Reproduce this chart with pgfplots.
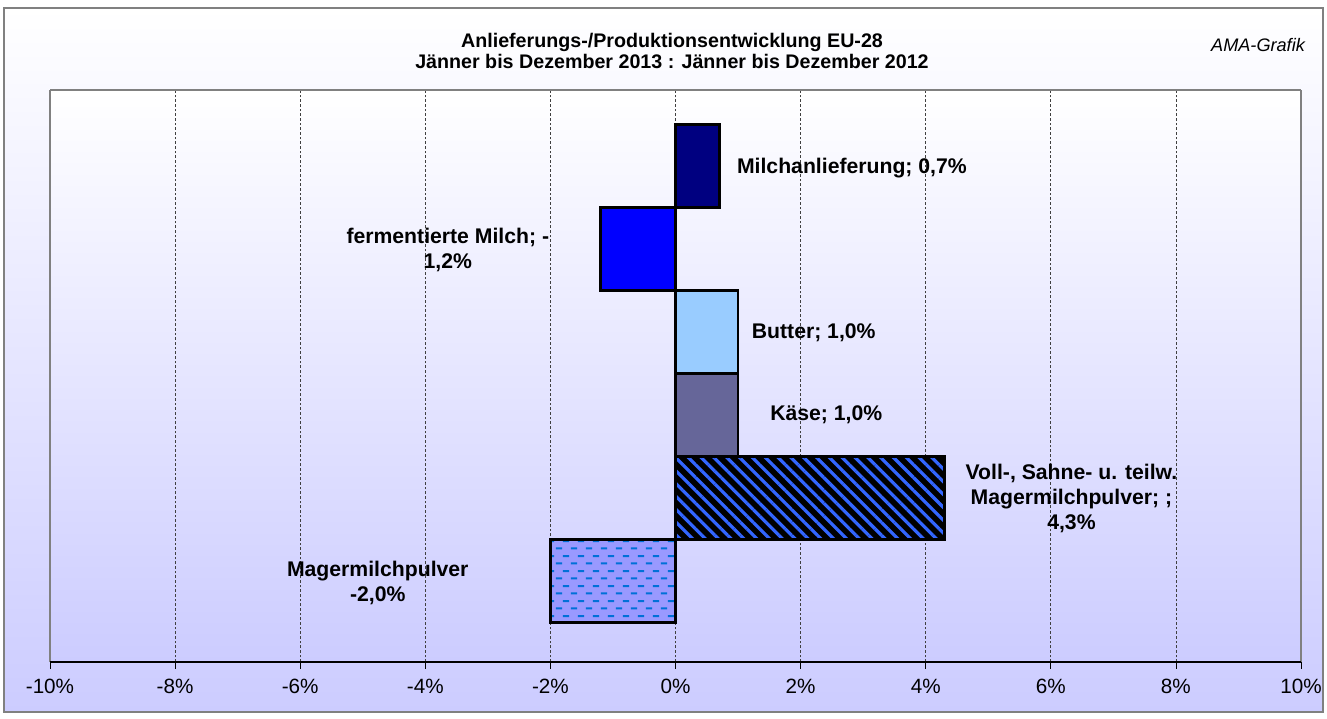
\documentclass[border=0pt]{standalone}
\usepackage{fontspec}
\setmainfont{Liberation Sans}
\usepackage{pgfplots}
\pgfplotsset{compat=1.18}
\usetikzlibrary{patterns,patterns.meta}

\definecolor{milch}{HTML}{000080}
\definecolor{ferm}{HTML}{0000FF}
\definecolor{butter}{HTML}{99CCFF}
\definecolor{kaese}{HTML}{666699}
\definecolor{vollblau}{HTML}{3366FF}
\definecolor{mager}{HTML}{9999FF}
\definecolor{magerstrich}{HTML}{0070D8}
\definecolor{lavendel}{HTML}{CCCCFF}

% horizontal dashes, rows offset by half a period
\pgfdeclarepatternformonly{hdashes}{\pgfpointorigin}{\pgfpoint{11.25pt}{11.4pt}}{\pgfpoint{11.25pt}{11.4pt}}{%
  \pgfsetlinewidth{1.5pt}%
  \pgfpathmoveto{\pgfpoint{0.6pt}{2.85pt}}\pgfpathlineto{\pgfpoint{5.6pt}{2.85pt}}%
  \pgfpathmoveto{\pgfpoint{6.2pt}{8.55pt}}\pgfpathlineto{\pgfpoint{11.2pt}{8.55pt}}%
  \pgfusepath{stroke}}

\tikzset{lbl/.style={font=\fontsize{15.9}{18.75}\selectfont\bfseries, align=center}}

\begin{document}
\begin{tikzpicture}
\path[use as bounding box] (0,0) rectangle (995.25pt,538.5pt);
% chart area
\shade[top color=white, bottom color=lavendel] (3pt,4.5pt) rectangle (992.25pt,532.5pt);
\draw[gray, line width=1.2pt] (3pt,4.5pt) rectangle (992.25pt,532.5pt);
% plot area
\shade[top color=white, bottom color=lavendel] (37.5pt,42pt) rectangle (975.75pt,471pt);

\node[align=center, font=\fontsize{14.75}{15.75}\selectfont\bfseries]
  at (504pt,500.6pt) {Anlieferungs-/Produktionsentwicklung EU-28\\Jänner bis Dezember 2013 : Jänner bis Dezember 2012};
\node[font=\fontsize{13.6}{15}\selectfont\itshape] at (943.5pt,504.75pt) {AMA-Grafik};

\begin{axis}[
    at={(37.5pt,42pt)}, anchor=south west,
    width=938.25pt, height=429pt, scale only axis,
    xmin=-10, xmax=10, ymin=0.024, ymax=6.92,
    xbar, bar width=1, bar shift=0pt,
    xtick={-10,-8,...,10}, ytick=\empty,
    xticklabel={\pgfmathprintnumber{\tick}\%},
    /pgf/number format/assume math mode=true,
    xticklabel style={font=\fontsize{15.5}{17}\selectfont, yshift=-4.5pt},
    xtick align=outside, xtick pos=bottom,
    major tick length=5pt,
    tick style={black, line width=0.6pt},
    xmajorgrids,
    major grid style={black!75, line width=0.5pt, dash pattern=on 2pt off 1.5pt},
    axis line style={draw=none},
    clip=false,
]
\addplot[draw=black, line width=2pt, fill=milch] coordinates {(0.7,6)};
\addplot[draw=black, line width=2pt, fill=ferm] coordinates {(-1.2,5)};
\addplot[draw=black, line width=2pt, fill=butter] coordinates {(1.0,4)};
\addplot[draw=black, line width=2pt, fill=kaese] coordinates {(1.0,3)};
\addplot[draw=black, line width=2pt, preaction={fill=black},
    pattern={Lines[angle=-45, distance=6.8pt, line width=2.4pt]}, pattern color=vollblau]
    coordinates {(4.3,2)};
\addplot[draw=black, line width=2pt, preaction={fill=mager},
    pattern=hdashes, pattern color=magerstrich] coordinates {(-2.0,1)};

% plot area frame
\draw[gray, line width=2.2pt] (rel axis cs:0,1) -- (rel axis cs:1,1);
\draw[gray, line width=1pt] (rel axis cs:0,0) -- (rel axis cs:0,1);
\draw[gray, line width=1pt] (rel axis cs:1,0) -- (rel axis cs:1,1);
\draw[black, line width=2.2pt] (rel axis cs:0,0) -- (rel axis cs:1,0);

\node[lbl] at (axis cs:2.82,5.98) {Milchanlieferung; 0,7\%};
\node[lbl] at (axis cs:-3.64,4.99) {fermentierte Milch; -\\1,2\%};
\node[lbl] at (axis cs:2.21,3.99) {Butter; 1,0\%};
\node[lbl] at (axis cs:2.41,3.0) {Käse; 1,0\%};
\node[lbl] at (axis cs:6.33,1.99) {Voll-, Sahne- u. teilw.\\Magermilchpulver; ;\\4,3\%};
\node[lbl] at (axis cs:-4.76,0.98) {Magermilchpulver\\-2,0\%};
\end{axis}
\end{tikzpicture}
\end{document}
